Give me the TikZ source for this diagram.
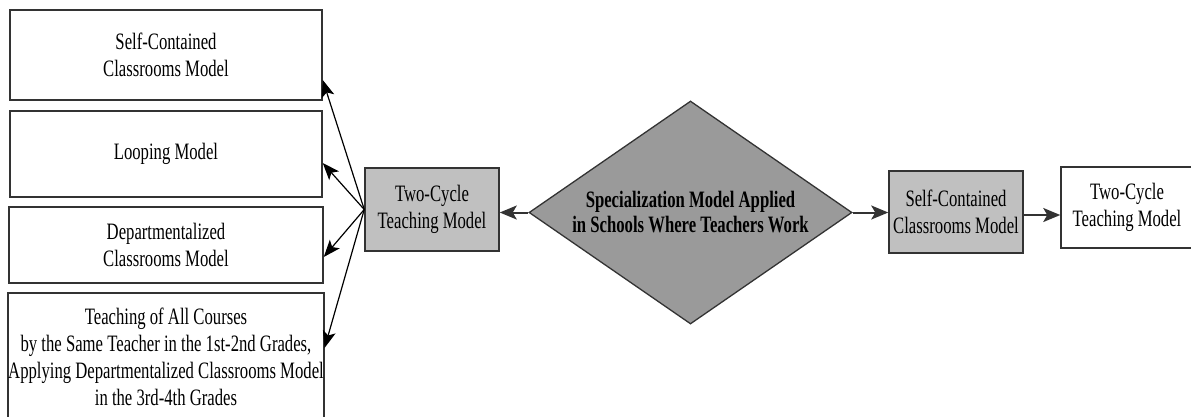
\documentclass[tikz,border=0pt]{standalone}
\usepackage{fontspec}
\setmainfont[FakeStretch=0.71]{Liberation Serif}
\usepackage{tikz}
\usetikzlibrary{shapes.geometric, arrows.meta}
\usepackage{xcolor}
\definecolor{boxline}{HTML}{333333}
\definecolor{lightgrey}{HTML}{C0C0C0}
\definecolor{darkgrey}{HTML}{9A9A9A}

\begin{document}
\begin{tikzpicture}[x=1pt, y=1pt,
  box/.style={draw=boxline, line width=1.5pt, rectangle, align=center, inner sep=0pt, font=\fontsize{23.5}{27}\selectfont},
  arr/.style={line width=1.2pt, -{Stealth[length=17pt, width=13pt, inset=4pt]}},
  flow/.style={line width=2pt, draw=boxline, -{Stealth[length=17pt, width=14pt, inset=4pt]}}]
  \useasboundingbox (0, 0) rectangle (1191, -416);
  % Nodes
  \node[box, minimum width=312pt, minimum height=90pt] (scm) at (166, -55) {Self-Contained\\Classrooms Model};
  \node[box, minimum width=312pt, minimum height=86pt] (loop) at (166, -154) {Looping Model};
  \node[box, minimum width=314pt, minimum height=76pt] (dcm) at (166, -245) {Departmentalized\\Classrooms Model};
  \node[box, minimum width=314pt, minimum height=128pt] (mix) at (166, -357) {Teaching of All Courses\\by the Same Teacher in the 1st-2nd Grades,\\Applying Departmentalized Classrooms Model\\in the 3rd-4th Grades};

  \node[box, fill=lightgrey, minimum width=134pt, minimum height=83pt] (twoL) at (432, -209.5) {Two-Cycle\\Teaching Model};
  \node[draw=boxline, line width=1.3pt, diamond, fill=darkgrey, aspect=1.45, minimum width=323pt, minimum height=223pt, inner sep=0pt, align=center, font=\bfseries\fontsize{23.5}{25}\selectfont] (spec) at (690.5, -212.5) {Specialization Model Applied\\in Schools Where Teachers Work};
  \node[box, fill=lightgrey, minimum width=134pt, minimum height=82pt] (scmR) at (956, -212) {Self-Contained\\Classrooms Model};
  \node[box, minimum width=132pt, minimum height=81pt] (twoR) at (1127, -207.5) {Two-Cycle\\Teaching Model};

  % Edges
  \draw[arr] (twoL.west) -- ([yshift=-25pt]scm.east);
  \draw[arr] (twoL.west) -- ([yshift=-9pt]loop.east);
  \draw[arr] (twoL.west) -- ([yshift=-12pt]dcm.east);
  \draw[arr] (twoL.west) -- ([yshift=9pt]mix.east);

  \draw[flow] (spec.west) -- (spec.west -| twoL.east);
  \draw[flow] (spec.east) -- (spec.east -| scmR.west);
  \draw[flow] ([yshift=-3pt]scmR.east) -- ([yshift=-3pt]scmR.east -| twoR.west);
\end{tikzpicture}
\end{document}
